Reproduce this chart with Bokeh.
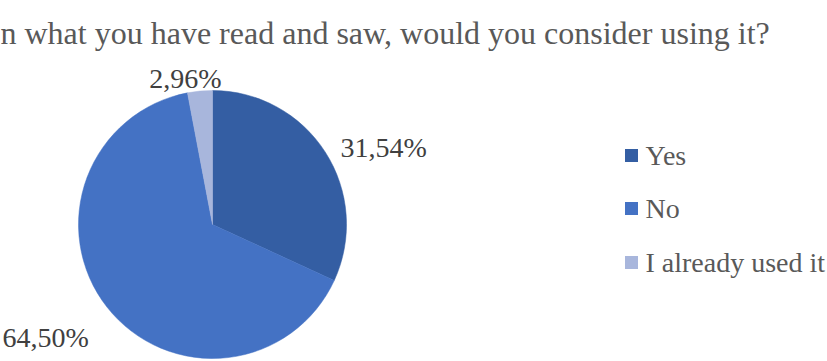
import math
from bokeh.plotting import figure
from bokeh.models import ColumnDataSource, Range1d
from bokeh.core.properties import value
from bokeh.embed import file_html
from bokeh.resources import INLINE

# ---- data ----
categories = ["Yes", "No", "I already used it"]
shares = [31.54, 64.50, 2.96]
labels = ["31,54%", "64,50%", "2,96%"]
colors = ["#345EA3", "#4472C4", "#A8B6DC"]
title_text = "n what you have read and saw, would you consider using it?"

# ---- layout (pixels, y measured from top) ----
W, H = 827, 361
CX, CY, R = 212, 224, 134
label_pos = [(340, 147, "left"), (2, 337, "left"), (185, 78, "center")]
FONT = "'Liberation Serif', 'Times New Roman', Tinos, serif"

p = figure(width=W, height=H, output_backend="svg", toolbar_location=None,
           x_range=Range1d(0, W), y_range=Range1d(0, H),
           min_border=0, outline_line_color=None)
p.axis.visible = False
p.grid.visible = False
p.background_fill_color = "white"
p.border_fill_color = "white"

def fy(y):
    return H - y

# wedges, clockwise from 12 o'clock
total = sum(shares)
starts, ends = [], []
acc = 0.0
for s in shares:
    a0 = math.pi / 2 - 2 * math.pi * acc / total
    acc += s
    a1 = math.pi / 2 - 2 * math.pi * acc / total
    starts.append(a0)
    ends.append(a1)

src = ColumnDataSource(dict(x=[CX] * len(shares), y=[fy(CY)] * len(shares),
                            start=starts, end=ends, color=colors))
p.wedge(x="x", y="y", radius=R, start_angle="start", end_angle="end",
        direction="clock", fill_color="color", line_color="color",
        line_width=0.5, source=src)

# data labels
for (lx, ly, al), txt in zip(label_pos, labels):
    p.text(x=[lx], y=[fy(ly)], text=[txt], text_font=value(FONT),
           text_font_size="28px", text_color="#404040",
           text_align=al, text_baseline="alphabetic")

# title
p.text(x=[0], y=[fy(32)], text=[title_text], text_font=value(FONT),
       text_font_size="32px", text_color="#595959",
       text_align="left", text_baseline="alphabetic")

# legend
leg_y = [155, 208, 262]
p.scatter(x=[631] * 3, y=[fy(v) for v in leg_y], marker="square", size=13,
          fill_color=colors, line_color=None)
p.text(x=[645] * 3, y=[fy(v) for v in leg_y], text=categories,
       text_font=value(FONT), text_font_size="28px", text_color="#595959",
       text_align="left", text_baseline="middle")

open("out.html", "w").write(file_html(p, INLINE))
